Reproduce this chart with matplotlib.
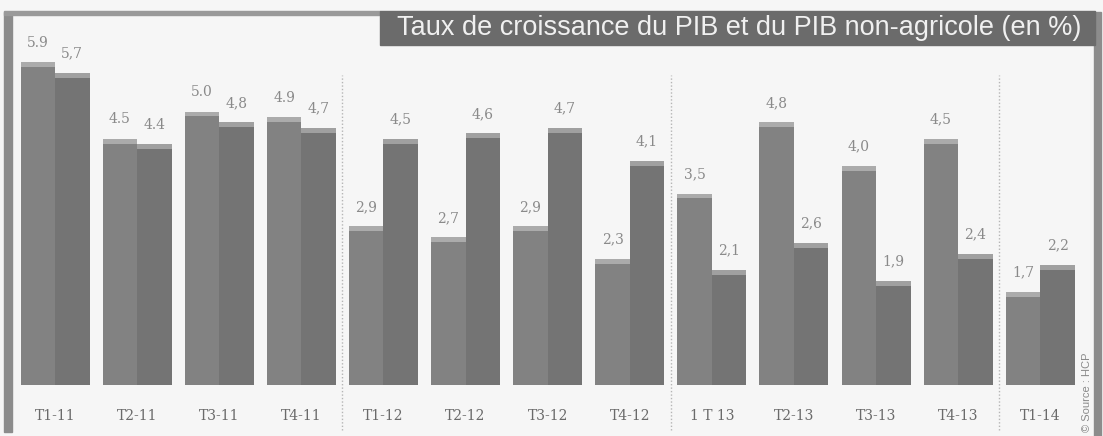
import matplotlib
matplotlib.use("Agg")
import matplotlib.pyplot as plt
from matplotlib.patches import Rectangle
import numpy as np

categories = ["T1-11", "T2-11", "T3-11", "T4-11", "T1-12", "T2-12", "T3-12",
              "T4-12", "1 T 13", "T2-13", "T3-13", "T4-13", "T1-14"]
pib = [5.9, 4.5, 5.0, 4.9, 2.9, 2.7, 2.9, 2.3, 3.5, 4.8, 4.0, 4.5, 1.7]
pib_non_agricole = [5.7, 4.4, 4.8, 4.7, 4.5, 4.6, 4.7, 4.1, 2.1, 2.6, 1.9, 2.4, 2.2]
pib_labels = ["5.9", "4.5", "5.0", "4.9", "2,9", "2,7", "2,9", "2,3", "3,5",
              "4,8", "4,0", "4,5", "1,7"]
pna_labels = ["5,7", "4.4", "4,8", "4,7", "4,5", "4,6", "4,7", "4,1", "2,1",
              "2,6", "1,9", "2,4", "2,2"]
title = "Taux de croissance du PIB et du PIB non-agricole (en %)"
source = "© Source : HCP"

W, H = 1103, 436
fig = plt.figure(figsize=(W / 100, H / 100), dpi=100, facecolor="#f6f6f6")

def fx(px):
    return px / W

def fy(py):
    return 1 - py / H

# main axes: baseline at y=385px, top at 12px; x from 12px to 1092px
ax = fig.add_axes([fx(12), fy(385), fx(1092) - fx(12), fy(12) - fy(385)])
ax.set_facecolor("none")
ax.set_xlim(-0.524, 12.63)
ax.set_ylim(0, 6.82)
for s in ax.spines.values():
    s.set_visible(False)
ax.set_yticks([])

x = np.arange(len(categories))
bw = 0.42
ax.bar(x - bw / 2, pib, width=bw, color="#828282", edgecolor="none")
ax.bar(x + bw / 2, pib_non_agricole, width=bw, color="#747474", edgecolor="none")

# lighter top caps (3D effect)
cap = 0.09
ax.bar(x - bw / 2, [cap] * len(x), bottom=np.array(pib) - cap, width=bw,
       color="#ababab", edgecolor="none")
ax.bar(x + bw / 2, [cap] * len(x), bottom=np.array(pib_non_agricole) - cap, width=bw,
       color="#a0a0a0", edgecolor="none")

for xi, v, lab in zip(x, pib, pib_labels):
    ax.annotate(lab, (xi - bw / 2, v), xytext=(0, 9), textcoords="offset points",
                ha="center", va="bottom", fontsize=10, color="#8a8a8a",
                family="DejaVu Serif")
for xi, v, lab in zip(x, pib_non_agricole, pna_labels):
    ax.annotate(lab, (xi + bw / 2, v), xytext=(0, 9), textcoords="offset points",
                ha="center", va="bottom", fontsize=10, color="#8a8a8a",
                family="DejaVu Serif")

ax.set_xticks(x)
ax.set_xticklabels(categories, fontsize=10, color="#6a6a6a", family="DejaVu Serif")
ax.tick_params(axis="x", length=0, pad=17)

# dotted separators between years
for sx in [3.5, 7.5, 11.5]:
    ax.axvline(sx, ymin=-0.12, ymax=0.83, color="#b5b5b5", lw=1,
               ls=(0, (1, 1.5)), clip_on=False)

# frame pieces
fig.patches.append(Rectangle((fx(4), fy(432)), fx(8) - fx(0), fy(12) - fy(432),
                             transform=fig.transFigure, color="#8c8c8c", zorder=0))
fig.patches.append(Rectangle((fx(4), fy(15)), fx(380) - fx(4), fy(11) - fy(15),
                             transform=fig.transFigure, color="#9a9a9a", zorder=0))
fig.patches.append(Rectangle((fx(1094), fy(436)), fx(7), fy(12) - fy(436),
                             transform=fig.transFigure, color="#8c8c8c", zorder=0))
# title box
fig.patches.append(Rectangle((fx(380), fy(45)), fx(1095) - fx(380), fy(11) - fy(45),
                             transform=fig.transFigure, color="#6b6b6b", zorder=0))
fig.text(fx(739), fy(28), title, ha="center", va="center", fontsize=19.5,
         color="#f0f0f0", family="Liberation Sans")

fig.text(fx(1087), fy(432), source, rotation=90, ha="center", va="bottom",
         fontsize=8, color="#8a8a8a", family="Liberation Sans")

fig.savefig("out.png", dpi=100, facecolor=fig.get_facecolor())
